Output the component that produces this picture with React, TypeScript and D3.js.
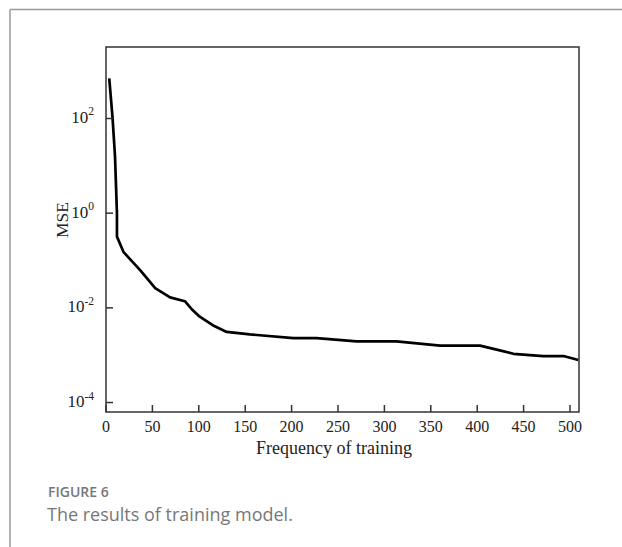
import * as d3 from 'd3'

// training curve
const epochs = [3.5, 7, 9.7, 11.8, 11.8, 19, 37, 53, 69, 85, 93, 101, 115, 130, 145, 155, 202, 227, 270, 313, 360, 403, 421, 439, 471, 493, 509]
const mse = [700, 107, 16, 1.0, 0.32, 0.15, 0.062, 0.026, 0.0166, 0.0138, 0.0091, 0.0065, 0.0043, 0.0031, 0.0029, 0.00275, 0.0023, 0.0023, 0.00196, 0.00196, 0.00159, 0.00159, 0.00131, 0.00107, 0.00096, 0.00096, 0.00079]

const xTicks = [0, 50, 100, 150, 200, 250, 300, 350, 400, 450, 500]
const yExponents = [2, 0, -2, -4]

const W = 622
const H = 547
const plot = { left: 106, right: 579, top: 47, bottom: 412 }

export default function App() {
  const x = d3.scaleLinear().domain([0, 509.7]).range([plot.left, plot.right])
  const y = d3.scaleLog().domain([Math.pow(10, -4.2), Math.pow(10, 3.51)]).range([plot.bottom, plot.top])

  const points = epochs.map((e, i) => [e, mse[i]] as [number, number])
  const line = d3.line<[number, number]>()
    .x(d => x(d[0]))
    .y(d => y(d[1]))

  const serif = '"Liberation Serif", "Times New Roman", serif'
  const sans = '"Open Sans", "Noto Sans", sans-serif'

  return (
    <svg width={W} height={H} style={{ position: 'absolute', left: 0, top: 0, background: '#fff' }}>
      {/* card border */}
      <line x1={10} y1={9.5} x2={W} y2={9.5} stroke='#999' strokeWidth={1.5} />
      <line x1={10} y1={9.5} x2={10} y2={H} stroke='#999' strokeWidth={1.5} />

      <path d={line(points) || ''} fill='none' stroke='#000' strokeWidth={2.7} strokeLinejoin='round' />

      {/* frame */}
      <rect x={plot.left} y={plot.top} width={plot.right - plot.left} height={plot.bottom - plot.top}
        fill='none' stroke='#333' strokeWidth={1.5} />

      {xTicks.map(t => (
        <g key={t}>
          <line x1={x(t)} x2={x(t)} y1={plot.bottom} y2={plot.bottom - 7} stroke='#333' strokeWidth={1.5} />
          <text x={x(t)} y={431.5} textAnchor='middle' fontFamily={serif} fontSize={16} fill='#222'>{t}</text>
        </g>
      ))}

      {yExponents.map(e => (
        <g key={e}>
          <line x1={plot.left} x2={plot.left + 7} y1={y(Math.pow(10, e))} y2={y(Math.pow(10, e))} stroke='#333' strokeWidth={1.5} />
          <text x={94} y={y(Math.pow(10, e)) + 4.5} textAnchor='end' fontFamily={serif} fontSize={17} fill='#222'>
            10<tspan dy={-7.5} fontSize={11.5}>{e}</tspan>
          </text>
        </g>
      ))}

      <text x={334} y={454} textAnchor='middle' fontFamily={serif} fontSize={18} fill='#222'>Frequency of training</text>
      <text transform={`translate(68,${220}) rotate(-90)`} textAnchor='middle' fontFamily={serif} fontSize={17.5} fill='#222'>MSE</text>

      <text x={48} y={497} fontFamily={sans} fontSize={14} fontWeight={600} fill='#777'>FIGURE 6</text>
      <text x={47} y={521} fontFamily={sans} fontSize={18} fill='#777'>The results of training model.</text>
    </svg>
  )
}
